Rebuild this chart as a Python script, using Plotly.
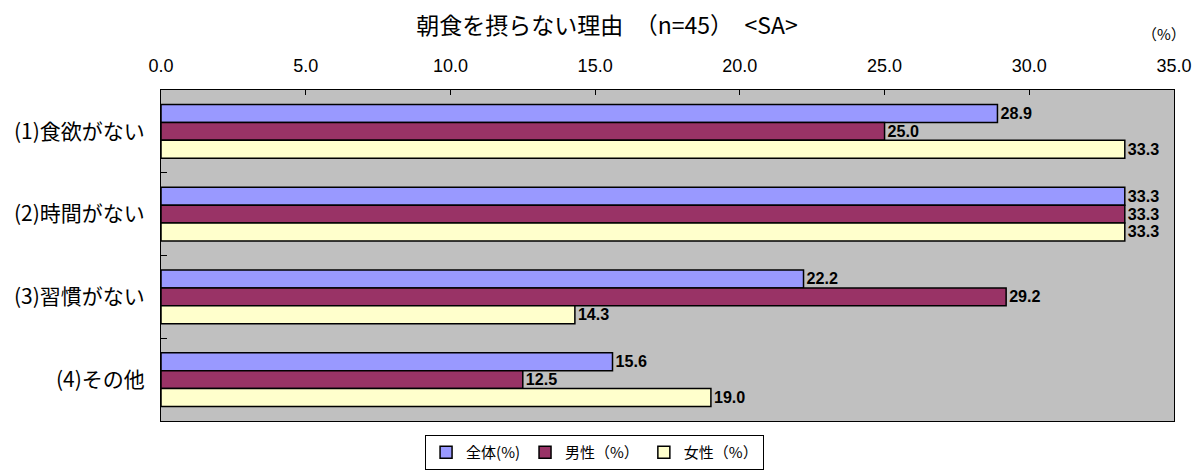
import plotly.graph_objects as go

categories = ["(1)食欲がない", "(2)時間がない", "(3)習慣がない", "(4)その他"]
series_names = ["全体(%)", "男性（%）", "女性（%）"]
zentai = [28.9, 33.3, 22.2, 15.6]
dansei = [25.0, 33.3, 29.2, 12.5]
josei = [33.3, 33.3, 14.3, 19.0]
x_ticks = [0, 5, 10, 15, 20, 25, 30, 35]
x_tick_labels = ["0.0", "5.0", "10.0", "15.0", "20.0", "25.0", "30.0", "35.0"]

colors = ["#9999FF", "#993366", "#FFFFCC"]
fig = go.Figure()
for name, vals, col in zip(series_names, [zentai, dansei, josei], colors):
    fig.add_trace(go.Bar(
        y=categories, x=vals, name=name, orientation="h",
        marker=dict(color=col, line=dict(color="black", width=1.5)),
        text=[f"<b>{v:.1f}</b>" for v in vals], textposition="outside",
        textfont=dict(family="Liberation Sans, Arial", size=18, color="black"),
        cliponaxis=False,
    ))

# page body has an 8px margin: figure is sized so it ends at the window edge
fig.update_layout(
    width=1192, height=462,
    barmode="group", bargap=0.35, bargroupgap=0,
    plot_bgcolor="#C0C0C0", paper_bgcolor="white",
    margin=dict(l=153, r=26, t=82, b=49, autoexpand=False),
    title=dict(text="朝食を摂らない理由　（n=45）　&lt;SA&gt;", x=0.5025, xanchor="center",
               y=0.961, yanchor="middle",
               font=dict(family="Noto Sans CJK JP", size=23, color="black")),
    font=dict(family="Noto Sans CJK JP", color="black"),
    showlegend=True,
    legend=dict(orientation="h", x=0.428, xanchor="center", y=-0.042, yanchor="top",
                bordercolor="black", borderwidth=1, bgcolor="white",
                font=dict(family="Noto Sans CJK JP", size=15), traceorder="normal",
                itemwidth=30, tracegroupgap=0),
)
fig.update_xaxes(range=[0, 35], side="top", tickvals=x_ticks, ticktext=x_tick_labels,
                 ticks="inside", ticklen=5, tickcolor="black", showgrid=False,
                 showline=True, linecolor="black", linewidth=1, mirror=True,
                 tickfont=dict(family="Liberation Sans, Arial", size=18), zeroline=False,
                 ticklabelstandoff=10)
fig.update_yaxes(autorange="reversed", ticks="inside", tickson="boundaries", ticklen=6,
                 tickcolor="black", showgrid=False,
                 showline=True, linecolor="black", linewidth=1, mirror=True,
                 tickfont=dict(family="Noto Sans CJK JP", size=21), ticklabelstandoff=11)
fig.add_annotation(text="（%）", xref="paper", yref="paper", x=0.99, y=1.172,
                   xanchor="center", yanchor="middle", showarrow=False,
                   font=dict(family="Noto Sans CJK JP", size=15, color="black"))
fig.write_html("out.html")
